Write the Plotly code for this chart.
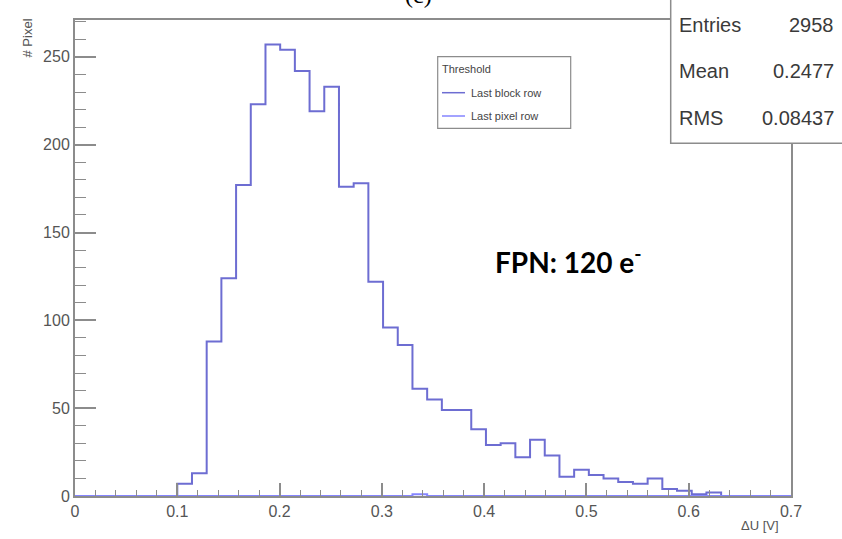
import plotly.graph_objects as go

# ---- data ----
bin_start = 0.1
bin_width = 0.01437
pad_before = 7
pad_after = 6
counts_block = [7, 13, 88, 124, 177, 223, 257, 254, 242, 219, 233, 176, 178, 122,
                96, 86, 61, 55, 49, 49, 38, 29, 30, 22, 32, 23, 11, 15, 12, 10,
                8, 7, 10, 4, 3, 1, 2]
counts_pixel = [0] * 16 + [1] + [0] * 20

x_ticks = [0, 0.1, 0.2, 0.3, 0.4, 0.5, 0.6, 0.7]
x_ticklabels = ["0", "0.1", "0.2", "0.3", "0.4", "0.5", "0.6", "0.7"]
y_ticks = [0, 50, 100, 150, 200, 250]

stats_labels = ["Entries", "Mean", "RMS"]
stats_values = ["2958", "0.2477", "0.08437"]

legend_title = "Threshold"
series_names = ["Last block row", "Last pixel row"]
colors = ["#6d6dd2", "#8585ff"]


def step_xy(counts):
    full = [0] * pad_before + list(counts) + [0] * pad_after
    first = bin_start - pad_before * bin_width
    edges = [first + i * bin_width for i in range(len(full) + 1)]
    ys = full + [full[-1]]
    return edges, ys


fig = go.Figure()
for counts, name, col in zip([counts_block, counts_pixel], series_names, colors):
    xs, ys = step_xy(counts)
    fig.add_trace(go.Scatter(x=xs, y=ys, mode="lines", line_shape="hv",
                             line=dict(color=col, width=2), name=name,
                             showlegend=False, hoverinfo="skip"))

W, H = 842, 539
L, R, T, B = 75, 51, 20, 43
PW, PH = W - L - R, H - T - B


def px(xp):
    return (xp - L) / PW


def py(yp):
    return (H - B - yp) / PH


axis_col = "#8c8c8c"
tick_font = dict(family="Liberation Sans, Arial, sans-serif", size=16, color="#555555")

fig.update_layout(
    width=W, height=H,
    margin=dict(l=L, r=R, t=T, b=B),
    paper_bgcolor="white", plot_bgcolor="white",
    showlegend=False,
    xaxis=dict(range=[0, 0.7], tickvals=x_ticks, ticktext=x_ticklabels,
               ticks="inside", ticklen=13, tickwidth=1.5, tickcolor=axis_col,
               minor=dict(ticks="inside", dtick=0.02, ticklen=6, tickwidth=1.2, tickcolor=axis_col),
               showline=True, linecolor=axis_col, linewidth=2, mirror=True,
               showgrid=False, zeroline=False, tickfont=tick_font),
    yaxis=dict(range=[0, 271], tickvals=y_ticks,
               ticks="inside", ticklen=21, tickwidth=1.5, tickcolor=axis_col,
               minor=dict(ticks="inside", dtick=10, ticklen=11, tickwidth=1.2, tickcolor=axis_col),
               showline=True, linecolor=axis_col, linewidth=2, mirror=True,
               showgrid=False, zeroline=False, tickfont=tick_font),
)

shapes = []
annotations = []

# stats box (top right, partly cut off)
shapes.append(dict(type="rect", xref="paper", yref="paper",
                   x0=px(670.7), x1=px(860), y0=py(143.3), y1=py(-5),
                   fillcolor="white", line=dict(color="#8c8c8c", width=1.5), layer="above"))
stat_font = dict(family="Liberation Sans, Arial, sans-serif", size=20, color="#3a3a3a")
for i, (lab, val) in enumerate(zip(stats_labels, stats_values)):
    yy = py(25 + i * 46.5)
    annotations.append(dict(xref="paper", yref="paper", x=px(677), y=yy, text=lab,
                            showarrow=False, xanchor="left", yanchor="middle", font=stat_font))
    annotations.append(dict(xref="paper", yref="paper", x=px(836), y=yy, text=val,
                            showarrow=False, xanchor="right", yanchor="middle", font=stat_font))

# legend box
shapes.append(dict(type="rect", xref="paper", yref="paper",
                   x0=px(437.7), x1=px(570.7), y0=py(128.3), y1=py(56.7),
                   fillcolor="white", line=dict(color="#8c8c8c", width=1.2), layer="above"))
leg_font = dict(family="Liberation Sans, Arial, sans-serif", size=11, color="#444444")
annotations.append(dict(xref="paper", yref="paper", x=px(440), y=py(69), text=legend_title,
                        showarrow=False, xanchor="left", yanchor="middle", font=leg_font))
for i, (name, col) in enumerate(zip(series_names, colors)):
    yy = py(92.7 + i * 23.3)
    shapes.append(dict(type="line", xref="paper", yref="paper",
                       x0=px(442), x1=px(465), y0=yy, y1=yy,
                       line=dict(color=col, width=1.5), layer="above"))
    annotations.append(dict(xref="paper", yref="paper", x=px(469), y=yy, text=name,
                            showarrow=False, xanchor="left", yanchor="middle", font=leg_font))

# FPN label
annotations.append(dict(xref="paper", yref="paper", x=px(493), y=py(260),
                        text="<b>FPN: 120 e<sup>-</sup></b>", showarrow=False,
                        xanchor="left", yanchor="middle",
                        font=dict(family="Lato, Open Sans, sans-serif", size=28, color="black")))

# axis titles
annotations.append(dict(xref="paper", yref="paper", x=px(781), y=py(516),
                        text="\u0394U [V]", showarrow=False, xanchor="right", yanchor="top",
                        font=dict(family="Liberation Sans, Arial, sans-serif", size=13, color="#555555")))
annotations.append(dict(xref="paper", yref="paper", x=px(27), y=py(17),
                        text="# Pixel", showarrow=False, textangle=-90,
                        xanchor="center", yanchor="top",
                        font=dict(family="Liberation Sans, Arial, sans-serif", size=13, color="#555555")))

# partially visible panel title
annotations.append(dict(xref="paper", yref="paper", x=px(418), y=py(10),
                        text="(c)", showarrow=False, xanchor="center", yanchor="bottom",
                        font=dict(family="Liberation Serif, Times New Roman, serif", size=24, color="black")))

fig.update_layout(shapes=shapes, annotations=annotations)
fig.write_html("out.html")
